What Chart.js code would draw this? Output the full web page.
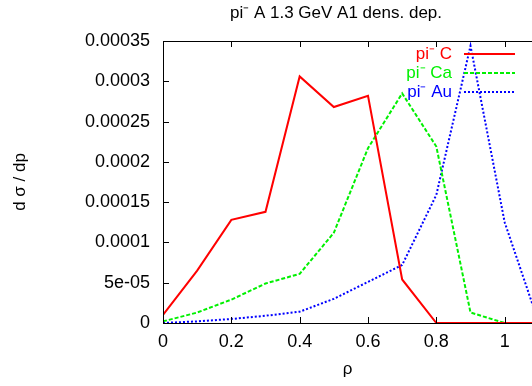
<!DOCTYPE html>
<html>
<head>
<meta charset="utf-8">
<script src="https://cdn.jsdelivr.net/npm/chart.js@4/dist/chart.umd.min.js"></script>
<style>
  html, body { margin: 0; padding: 0; background: #fff; }
</style>
</head>
<body>
<canvas id="myChart" width="532" height="386"></canvas>
<script>
// data
const rho  = [0, 0.1, 0.2, 0.3, 0.4, 0.5, 0.6, 0.7, 0.8, 0.9, 1.0, 1.1];
const piC  = [1.0e-5, 6.5e-5, 12.8e-5, 13.8e-5, 30.6e-5, 26.8e-5, 28.2e-5, 5.4e-5, 0, 0, 0, 0];
const piCa = [0.2e-5, 1.3e-5, 2.9e-5, 4.9e-5, 6.1e-5, 11.2e-5, 21.7e-5, 28.5e-5, 21.9e-5, 1.3e-5, 0, 0];
const piAu = [0, 0.2e-5, 0.5e-5, 0.9e-5, 1.4e-5, 3.0e-5, 5.1e-5, 7.2e-5, 15.9e-5, 34.4e-5, 12.5e-5, 0];

const xTicks = [0, 0.2, 0.4, 0.6, 0.8, 1];
const xLabels = ['0', '0.2', '0.4', '0.6', '0.8', '1'];
const yTicks = [0, 5e-5, 1e-4, 1.5e-4, 2e-4, 2.5e-4, 3e-4, 3.5e-4];
const yLabels = ['0', '5e-05', '0.0001', '0.00015', '0.0002', '0.00025', '0.0003', '0.00035'];

const FONT = 'Liberation Sans, Arial, sans-serif';
const FSIZE = 17;

function pts(ys) {
  return rho.map((x, i) => ({ x: x, y: ys[i] }));
}

// title, box, inward ticks and key, gnuplot style
const gnuplotBits = {
  id: 'gnuplotBits',
  afterDatasetsDraw(chart) {
    const ctx = chart.ctx;
    const a = chart.chartArea;
    const xs = chart.scales.x, ys = chart.scales.y;
    ctx.save();
    ctx.strokeStyle = '#000';
    ctx.lineWidth = 1;
    ctx.setLineDash([]);
    ctx.beginPath();
    ctx.moveTo(a.left + 0.5, a.top + 0.5);
    ctx.lineTo(a.right + 1, a.top + 0.5);
    ctx.moveTo(a.left + 0.5, a.top + 0.5);
    ctx.lineTo(a.left + 0.5, a.bottom + 0.5);
    ctx.lineTo(a.right + 1, a.bottom + 0.5);
    xTicks.forEach(v => {
      const px = Math.round(xs.getPixelForValue(v)) + 0.5;
      ctx.moveTo(px, a.bottom);
      ctx.lineTo(px, a.bottom - 6);
      ctx.moveTo(px, a.top);
      ctx.lineTo(px, a.top + 6);
    });
    yTicks.forEach(v => {
      const py = Math.round(ys.getPixelForValue(v)) + 0.5;
      ctx.moveTo(a.left, py);
      ctx.lineTo(a.left + 6, py);
    });
    ctx.stroke();

    // title
    ctx.fillStyle = '#000';
    ctx.font = FSIZE + 'px ' + FONT;
    ctx.textAlign = 'center';
    ctx.textBaseline = 'middle';
    ctx.fillText('pi\u207B A 1.3 GeV A1 dens. dep.', 336, 13);

    // key
    const keyY = [54, 73, 92];
    chart.data.datasets.forEach((ds, i) => {
      ctx.fillStyle = ds.borderColor;
      ctx.textAlign = 'right';
      ctx.fillText(ds.label, 452, keyY[i]);
      ctx.strokeStyle = ds.borderColor;
      ctx.lineWidth = ds.borderWidth;
      ctx.setLineDash(ds.borderDash || []);
      ctx.beginPath();
      ctx.moveTo(464, keyY[i]);
      ctx.lineTo(515, keyY[i]);
      ctx.stroke();
    });
    ctx.restore();
  }
};

const ctx = document.getElementById('myChart').getContext('2d');

const myChart = new Chart(ctx, {
  type: 'line',
  data: {
    datasets: [
      { label: 'pi\u207B C', data: pts(piC), borderColor: '#ff0000', borderWidth: 2, pointRadius: 0, tension: 0 },
      { label: 'pi\u207B Ca', data: pts(piCa), borderColor: '#00f000', borderWidth: 2, borderDash: [4, 2], pointRadius: 0, tension: 0 },
      { label: 'pi\u207B Au', data: pts(piAu), borderColor: '#0000ff', borderWidth: 2, borderDash: [2, 2], pointRadius: 0, tension: 0 }
    ]
  },
  options: {
    responsive: false,
    animation: false,
    layout: { padding: { top: 41, left: 0, right: 0, bottom: 0 } },
    plugins: {
      legend: { display: false },
      title: { display: false },
      tooltip: { enabled: false }
    },
    scales: {
      x: {
        type: 'linear',
        min: 0,
        max: 1.08,
        afterBuildTicks: s => { s.ticks = xTicks.map(v => ({ value: v })); },
        afterFit: s => { s.height = 63; },
        ticks: {
          color: '#000',
          font: { family: FONT, size: 18 },
          padding: 8,
          maxRotation: 0,
          callback: (v) => xLabels[xTicks.indexOf(v)]
        },
        grid: { display: false, drawTicks: false },
        border: { display: false },
        title: { display: true, text: 'ρ', color: '#000', font: { family: FONT, size: FSIZE }, padding: { top: 0, bottom: 6 } }
      },
      y: {
        min: 0,
        max: 3.5e-4,
        afterBuildTicks: s => { s.ticks = yTicks.map(v => ({ value: v })); },
        afterFit: s => { s.width = 163; },
        ticks: {
          color: '#000',
          font: { family: FONT, size: 18 },
          padding: 13,
          callback: (v) => yLabels[yTicks.indexOf(v)]
        },
        grid: { display: false, drawTicks: false },
        border: { display: false },
        title: { display: true, text: 'd σ / dp', color: '#000', font: { family: FONT, size: FSIZE }, padding: { top: 10, bottom: 0 } }
      }
    }
  },
  plugins: [gnuplotBits]
});
</script>
</body>
</html>
